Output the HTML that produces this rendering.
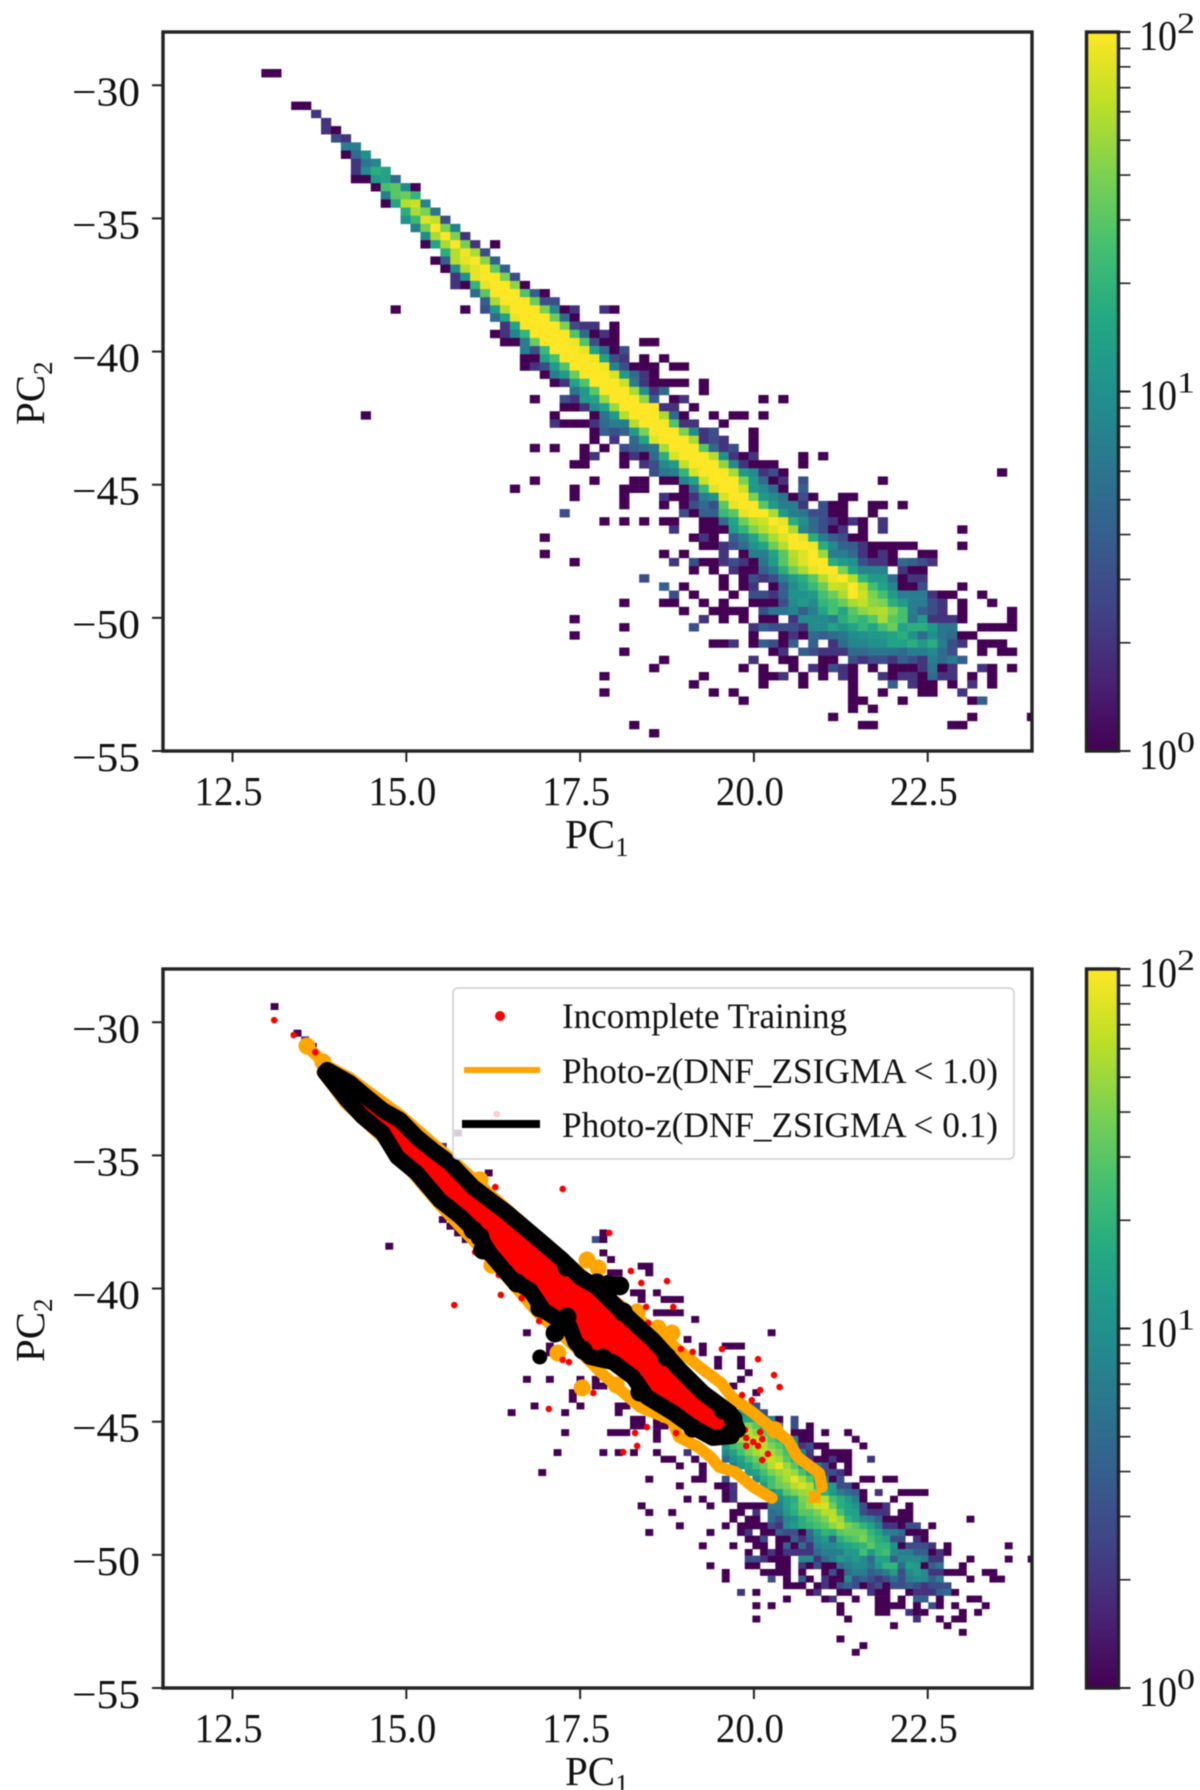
<!DOCTYPE html>
<html lang="en">
<head>
<meta charset="utf-8">
<title>PC1 vs PC2 density charts</title>
<style>
html,body{margin:0;padding:0;background:#fff;}
svg{display:block;filter:blur(0.45px);}
text{font-family:"Liberation Serif","Times New Roman",serif;fill:#111;}
</style>
</head>
<body>
<svg id="figure" xmlns="http://www.w3.org/2000/svg" width="1200" height="1790" viewBox="0 0 1200 1790">
  <defs>
    <clipPath id="clip-top"><rect x="163" y="32" width="869" height="719"/></clipPath>
    <clipPath id="clip-bottom"><rect x="163" y="969" width="869" height="719"/></clipPath>
    <linearGradient id="viridis-grad" x1="0" y1="1" x2="0" y2="0"></linearGradient>
  </defs>
  <g id="top-panel">
    <g id="top-cells" clip-path="url(#clip-top)"></g>
    <g id="top-axes"></g>
    <text x="565" y="848" font-size="41">PC<tspan dy="8" font-size="27">1</tspan></text>
    <text transform="translate(44,425) rotate(-90)" font-size="41">PC<tspan dy="8" font-size="27">2</tspan></text>
  </g>
  <g id="bottom-panel">
    <g id="bottom-cells" clip-path="url(#clip-bottom)"></g>
    <g id="overlays" clip-path="url(#clip-bottom)"></g>
    <g id="bottom-axes"></g>
    <text x="565" y="1785" font-size="41">PC<tspan dy="8" font-size="27">1</tspan></text>
    <text transform="translate(44,1362) rotate(-90)" font-size="41">PC<tspan dy="8" font-size="27">2</tspan></text>
    <g>
      <rect x="453" y="988" width="561" height="171" rx="5" ry="5" fill="#fff" fill-opacity="0.8" stroke="#d0d0d0" stroke-width="1.6"/>
      <circle cx="500" cy="1016" r="5" fill="#ff0000"/>
      <text x="562" y="1028" font-size="36" textLength="285" lengthAdjust="spacingAndGlyphs">Incomplete Training</text>
      <line x1="464" y1="1070" x2="540" y2="1070" stroke="#ffa500" stroke-width="6"/>
      <text x="562" y="1083" font-size="36" textLength="436" lengthAdjust="spacingAndGlyphs">Photo-z(DNF_ZSIGMA &lt; 1.0)</text>
      <line x1="462" y1="1124" x2="540" y2="1124" stroke="#000" stroke-width="8"/>
      <text x="562" y="1137" font-size="36" textLength="436" lengthAdjust="spacingAndGlyphs">Photo-z(DNF_ZSIGMA &lt; 0.1)</text>
    </g>
  </g>
</svg>
<script>
const pc1Ticks = [12.5, 15.0, 17.5, 20.0, 22.5];
const pc2Ticks = [-30, -35, -40, -45, -50, -55];
const colorbarMajor = [1, 10, 100];
const colorbarMajorLabels = ['0', '1', '2'];
const colorbarMinor = [2, 3, 4, 5, 6, 7, 8, 9, 20, 30, 40, 50, 60, 70, 80, 90];
const viridisColors = ['#440154','#482475','#414487','#355f8d','#2a788e','#21918c','#22a884','#44bf70','#7ad151','#bddf26','#fde725'];

// bins: [PC2 bin, first PC1 bin, counts...]
const topBinPc1Start = 12.915, topBinPc1Width = 0.143, topBinPc2Start = -29.39, topBinPc2Height = 0.306;
const topCounts = [
[0,0,[1,1]],[4,3,[1,1]],[5,5,[2]],[6,6,[2]],[7,6,[2,1]],[8,7,[3,2]],[9,8,[7,7]],[10,8,[1,5,10]],[11,9,[2,6,8]],[12,9,[2,9,18,14]],
[13,9,[1,1,12,14,5]],[14,11,[1,25,30,9,1]],[15,12,[7,30,35,20]],[16,12,[1,15,60,70,8]],[17,14,[18,55,40,6]],[18,14,[10,22,80,65,3]],
[19,15,[7,38,100,40,8]],[20,16,[9,55,100,40,2]],[21,16,[1,15,55,100,38,2,0,1]],[22,18,[18,60,90,55,3]],[23,17,[1,4,60,85,100,45,4]],
[24,18,[1,9,60,85,100,32,4]],[25,19,[2,10,85,100,100,40,3]],[26,19,[2,1,20,85,100,100,45,1]],[27,21,[5,30,100,100,100,28,4,1]],
[28,22,[4,55,100,100,100,35,3,3]],[29,13,[1]],[29,20,[1,0,3,12,60,100,100,100,40,9,1,2,0,0,2,1]],[30,23,[5,14,85,100,100,100,35,5,1]],
[31,24,[2,14,100,100,100,100,40,3,2,2,0,1]],[32,23,[1,2,8,20,100,100,100,100,28,5,1,2,1]],[33,24,[1,1,7,35,100,100,100,90,28,3,1,1,0,0,1,1]],
[34,26,[7,3,22,100,100,100,85,14,5,1,3]],[35,26,[1,1,14,25,100,100,100,90,14,3,2,0,1,0,1]],[36,26,[1,2,3,12,28,100,100,100,90,8,3,1,1,1,0,1,1]],
[37,28,[1,7,12,35,100,100,100,75,12,5,2,1]],[38,29,[1,2,14,28,100,100,100,70,7,2,1,1,1,1,0,1]],[39,31,[6,12,30,100,100,100,55,10,2,5,0,0,0,1]],
[40,27,[1]],[40,30,[3,2,12,15,50,100,100,100,45,4,0,1,2]],[40,50,[1]],[40,52,[1]],[41,30,[1,1,2,9,14,50,100,100,100,100,2,2,0,1]],
[42,10,[1]],[42,29,[1,0,0,0,1,6,12,60,100,100,100,55,5,1,0,0,1,0,1,1,0,1]],[43,29,[2,1,1,1,2,5,7,7,60,100,100,100,28,2,2,0,0,1]],
[44,33,[1,4,3,4,12,40,100,100,100,40,9,2,3,0,0,0,1]],[45,33,[1,0,2,0,5,15,80,100,100,100,55,2,3,2,0,0,1]],
[46,27,[1,0,1,0,0,1,0,1,0,3,4,5,6,55,100,100,100,30,5,2,3,0,1]],[47,32,[1,2,0,0,1,2,1,5,18,75,100,100,100,60,10,2,1,2]],[47,54,[1]],[47,56,[1]],
[48,31,[1,1,0,0,0,1,0,2,3,9,12,65,100,100,100,45,9,2,1,1,1]],[48,54,[1]],[49,39,[3,6,7,20,75,100,100,100,55,12,9,2,3,1]],[49,74,[1]],
[50,27,[1]],[50,33,[1]],[50,37,[1,1,0,1,1,8,14,70,100,100,100,40,12,5,1,2,0,3]],[50,62,[1]],
[51,25,[1]],[51,31,[1]],[51,36,[1,1,1,0,0,0,1,5,22,80,100,100,70,12,9,5,1,0,4]],
[52,31,[1]],[52,36,[1,0,0,0,2,1,1,2,7,10,75,100,100,40,12,9,6,1,3,1]],[52,58,[1,1]],
[53,36,[1]],[53,40,[1,0,1,3,5,3,30,85,100,100,30,12,7,7,2,0,3,1,1]],[53,61,[1,1]],[53,64,[1]],
[54,30,[3]],[54,42,[3,1,4,4,22,30,85,100,100,55,12,7,6,3,3,1,1]],[54,61,[1]],
[55,34,[1]],[55,36,[1,0,1,0,1,1,0,0,1,1,5,15,35,60,70,100,85,18,10,5,3,2,1,2,1,0,2]],
[56,41,[2,0,0,1,1,1,12,20,40,60,80,100,55,8,5,3,1,2,0,1,0,2]],[56,70,[1]],
[57,28,[1]],[57,43,[1,2,1,0,4,7,14,30,55,80,100,85,18,7,4,3,1,1]],
[58,44,[1,1,2,3,5,10,15,35,60,100,100,90,18,9,4,4,2,1,1,1,1,1]],[58,70,[1]],
[59,28,[1]],[59,40,[1,0,1,0,0,0,2,0,1,7,7,14,30,60,80,100,50,7,7,5,2,1,2,1]],[59,66,[1,1]],
[60,31,[1]],[60,41,[2,0,3,1,1,2,3,2,1,6,12,30,55,80,100,100,18,12,10,3,2,2,1,5,4,3,2]],
[61,43,[1,0,1,0,2,1,1,4,7,18,35,55,85,100,100,40,15,8,8,8,0,2,1,1]],
[62,38,[3]],[62,46,[1,0,1,3,2,3,7,12,18,30,60,90,100,60,20,12,12,5,1,2,2]],
[63,40,[4,0,1]],[63,46,[1,0,1,2,0,1,4,9,14,22,35,70,65,100,60,25,14,8,1,1,3]],[63,70,[1]],
[64,41,[3,0,1]],[64,47,[1,0,3,3,2,4,10,10,12,25,35,55,100,70,40,25,12,7,7,7,2,1,1]],[64,72,[1]],
[65,36,[1]],[65,40,[1,1]],[65,44,[1,0,1]],[65,49,[1,1,1,3,9,12,9,20,25,35,55,65,45,40,18,12,7,7,3,2,0,1]],[65,73,[1]],
[66,42,[1,0,0,1,1,1,1,0,3,6,6,8,4,7,15,25,15,30,45,55,60,40,25,7,4,3,2,0,1]],[66,75,[1]],
[67,31,[1]],[67,44,[2,0,1,0,1,0,1,1,0,2,9,9,9,7,18,25,20,30,55,30,25,6,12,2,2,2,1]],[67,75,[1]],
[68,36,[1]],[68,43,[3]],[68,49,[2,4,3,3,3,2,9,9,14,10,14,20,15,25,35,14,18,18,12,6,6]],[68,72,[1,1,1,1]],
[69,31,[1]],[69,49,[1,0,0,1,2,1,5,4,5,6,9,10,12,12,14,18,10,5,10,6,5,1,1]],
[70,45,[1,1,2,0,1,4,3,1,4,0,4,0,2,5,8,8,10,10,14,14,18,12,18,7,3,2]],[70,72,[1,1,1]],
[71,36,[1]],[71,51,[1,2,0,4,3,2,2,2,5,5,6,6,6,5,7,7,9,5,3]],[71,72,[1]],[71,74,[1,1]],
[72,40,[1]],[72,49,[2,0,0,1,1,0,0,1,1,0,3,2,3,3,2,4,3,2,7,5,7,4]],
[73,39,[1]],[73,48,[1,0,1,0,0,1,0,2,1,3,2,1,0,1,0,1,1,1,2,6,1,2]],[73,72,[2,1,0,1]],
[74,34,[1]],[74,44,[1]],[74,50,[1,1,2,0,1,0,1,0,2,1,0,0,2,1,2,2,1,5,2,2,0,1,0,1]],
[75,43,[1]],[75,50,[1]],[75,54,[1]],[75,59,[1,0,0,0,4,0,2,1,1,0,1,0,2,0,1]],
[76,34,[1]],[76,45,[1,0,1]],[76,59,[1,0,0,1]],[76,66,[1,1,0,0,2]],
[77,48,[1]],[77,59,[1,1]],[77,64,[1]],[77,71,[1,4]],[78,59,[1,0,1]],[79,57,[1]],[79,71,[1]],[79,77,[1]],
[80,37,[1]],[80,60,[1,1]],[80,69,[1,1]],[81,39,[1]]
];

const bottomBinPc1Start = 12.938, bottomBinPc1Width = 0.11, bottomBinPc2Start = -29.28, bottomBinPc2Height = 0.25;
const bottomCounts = [
[0,1,[1]],[4,4,[1]],[5,5,[2]],[6,6,[1]],[7,6,[2]],[8,7,[2]],[19,25,[1]],[21,23,[2]],[25,29,[1]],[32,23,[1]],[33,24,[1]],[34,25,[1]],[34,44,[1]],
[35,26,[1]],[35,29,[14,35,70,100,100,70,35]],[35,43,[3,1]],[36,16,[1]],[37,44,[1]],[38,45,[1]],[39,49,[1,1]],[40,45,[1,1]],[40,50,[1]],
[43,48,[1,1,0,1]],[44,49,[1,0,0,1,1,1]],[45,37,[7,14,40,90,100,100,100,70,30,10]],[46,51,[1,1,1,1]],[47,56,[1]],[49,34,[1]],[49,66,[1]],
[50,55,[1]],[51,37,[1]],[51,57,[1,0,0,1,1,1]],[52,37,[1]],[52,57,[1]],[53,59,[1,0,0,1]],[54,59,[1,0,0,1]],[55,63,[1]],
[56,34,[1]],[56,37,[1]],[56,41,[1]],[56,43,[1]],[56,62,[1]],[57,43,[1,1]],[57,61,[1]],[58,40,[1]],[58,64,[1]],[59,40,[1]],
[59,50,[9,20,60,100,100,70,30,14]],[60,35,[1]],[60,41,[1]],[60,46,[1,1]],[60,63,[5,3]],[61,32,[1]],[61,39,[1]],[61,46,[1]],[61,62,[9,12,5,3]],
[62,48,[1,1]],[62,51,[1]],[62,62,[14,14,20,9,8,1]],[62,69,[3]],[63,48,[1,1]],[63,51,[1,1]],[63,61,[20,30,45,30,18,8,7]],[63,69,[3]],[63,71,[1]],
[64,39,[1]],[64,45,[1,1,1]],[64,51,[1]],[64,61,[30,45,60,45,30,18,12]],[64,69,[1,1,1]],[64,73,[1]],[64,76,[1]],
[65,51,[1]],[65,60,[20,35,55,70,65,45,30,20,18,9]],[65,70,[1,1]],[65,77,[1]],
[66,60,[12,25,30,40,60,60,40,30,20,10,2,3,1,1]],[66,78,[1]],
[67,38,[1]],[67,44,[1]],[67,46,[1]],[67,48,[1]],[67,51,[1]],[67,55,[2]],[67,60,[9,14,25,40,55,65,55,40,25,14,7,2,0,1,1,1,1]],
[68,52,[1,1,0,0,1]],[68,56,[1]],[68,60,[5,10,14,25,35,55,65,55,30,18,7,2,1,1,2,1,1]],[68,79,[2]],
[69,54,[1]],[69,57,[1]],[69,61,[7,12,15,25,35,60,85,50,30,14,9,7,3,1,0,1]],
[70,36,[1]],[70,57,[1]],[70,63,[12,14,25,40,50,60,50,25,14,7,3,3,2,1]],
[71,50,[1]],[71,56,[1,1]],[71,60,[3]],[71,64,[9,18,25,40,55,85,55,30,14,7,1,3]],[71,78,[1,1]],[71,81,[1,1]],
[72,54,[1]],[72,59,[1,1,2]],[72,65,[12,25,35,40,60,75,60,20,12,12,3,3,1]],
[73,60,[1,2]],[73,66,[8,14,30,40,50,55,40,20,12,7,5,4,1]],[73,80,[2]],[73,83,[1,1,1,1]],
[74,55,[1]],[74,57,[1]],[74,60,[1,2]],[74,67,[9,14,18,40,45,70,60,25,18,12,7,1]],[74,82,[1]],
[75,49,[1]],[75,58,[1]],[75,62,[1,1,1,1,7,7,14,20,35,50,70,75,35,18,14,10,3,1,1,2]],[75,84,[1]],
[76,50,[1]],[76,53,[1]],[76,61,[1,1,0,2]],[76,66,[5,6,12,18,30,30,40,60,60,25,14,14,3,2,2,2,0,1,1]],
[77,61,[1]],[77,63,[1,1]],[77,66,[5,3,8,10,18,25,30,40,65,50,20,14,9,7,4,1,1,1,1]],[77,92,[1]],
[78,54,[1]],[78,60,[1]],[78,62,[1,1,1,1,3,2,9,12,18,20,25,30,45,60,40,30,20,14,7,2,2,1,3,3,0,1]],
[79,50,[1]],[79,58,[1]],[79,62,[1,2,0,1,1,4,3,3,1,5,12,20,18,30,35,35,35,20,14,7,7,5,1,1,1]],
[80,63,[1,1,3,0,1,1,4,2,4,9,12,4,18,25,30,40,25,18,14,3,3,0,2,1]],
[81,57,[1]],[81,61,[1,0,0,1,1,0,1,4,1,5,2,7,9,9,12,14,18,20,30,20,20,10,1,3,3,3,2,0,1]],[81,97,[1]],
[82,63,[1,0,1,2,1,2,2,2,2,5,7,7,7,12,12,25,12,20,25,9,7,7,4,4,1,2,1]],
[83,63,[3,3,2,1,1,1,0,9,9,2,5,7,12,9,12,9,5,14,14,4,9,9,9,7,2,2]],[83,92,[1]],[83,97,[1]],[83,100,[1]],
[84,58,[1]],[84,63,[1,1,0,0,1,1,0,2,1,3,1,1,5,7,9,9,6,12,20,20,5,14,12,1,4,6]],[84,91,[1]],
[85,60,[1]],[85,65,[1,1,1,1,0,1,0,0,1,3,1,5,7,7,4,5,7,12,3,9,12,9,2,2,1,1,1]],[85,94,[1,1]],
[86,60,[1]],[86,66,[3,0,1,0,4,1,0,2,1,1,9,3,4,3,2,3,5,3,7,9,9,4,7]],[86,92,[1]],[86,95,[1,1]],
[87,68,[1,1,1,0,1,2,1,3,4,3,1,2,3,1,3,3,4,3,2,3,3,3]],
[88,62,[2]],[88,64,[1]],[88,71,[1,2]],[88,75,[1,1,0,0,2,1,1,0,0,1,2,2,2,4,5,1]],
[89,68,[1]],[89,73,[1,2]],[89,77,[1]],[89,80,[1,1]],[89,83,[1]],[89,85,[4,4,0,1]],[89,92,[1,1]],
[90,64,[1]],[90,66,[1]],[90,75,[1]],[90,80,[1,1,1,1,0,1,0,3,1,0,1]],[90,94,[1]],
[91,75,[1]],[91,80,[1,1]],[91,84,[2,1,1]],[91,91,[1]],[91,93,[1]],
[92,64,[1]],[92,76,[1]],[92,85,[2]],[92,88,[1]],[92,90,[1,1]],[93,82,[1]],[93,89,[1]],[94,91,[1]],[95,75,[1]],[96,78,[1]],[97,77,[1]]
];

const incompletePc1 = [13.86,14.19,14.43,14.66,14.91,15.15,15.38,15.63,15.96,16.45,16.88,17.25,17.5,17.74,18.03,18.36,18.55,18.94,19.27,19.66,19.77,19.68,19.41,19.12,18.84,18.46,18.26,17.97,17.64,17.43,17.35,16.97,16.78,16.53,16.20,16.02,15.77,15.48,15.15,14.87,14.66,14.38,14.15,13.83];
const incompletePc2 = [-31.79,-32.28,-32.81,-33.30,-33.67,-34.31,-34.8,-35.29,-36.19,-37.16,-38.1,-38.93,-39.57,-39.94,-40.69,-41.48,-41.93,-43.06,-43.92,-44.67,-45.31,-45.54,-45.61,-45.2,-44.67,-44.07,-43.32,-42.76,-42.57,-42.01,-41.44,-40.81,-40.06,-39.68,-38.67,-37.91,-37.28,-36.68,-35.66,-35.06,-34.16,-33.56,-32.92,-31.87];

const blackUpperPc1 = [13.86,14.19,14.43,14.66,14.91,15.15,15.38,15.63,15.96,16.45,16.88,17.25,17.5,17.74,18.03,18.36,18.55,18.94,19.27,19.66,19.77];
const blackUpperPc2 = [-31.79,-32.28,-32.81,-33.30,-33.67,-34.31,-34.8,-35.29,-36.19,-37.16,-38.1,-38.93,-39.57,-39.94,-40.69,-41.48,-41.93,-43.06,-43.92,-44.67,-45.31];
const blackLowerPc1 = [13.83,14.15,14.38,14.66,14.87,15.15,15.48,15.77,16.02,16.20,16.53,16.78,16.97,17.35,17.43,17.64,17.97,18.26,18.46,18.84,19.12,19.41,19.68];
const blackLowerPc2 = [-31.87,-32.92,-33.56,-34.16,-35.06,-35.66,-36.68,-37.28,-37.91,-38.67,-39.68,-40.06,-40.81,-41.44,-42.01,-42.57,-42.76,-43.32,-44.07,-44.67,-45.2,-45.61,-45.54];
const blackBlobPc1 = [17.14,18.07,17.9,18.0,19.7,15.96,16.1,16.59,16.92,17.31,17.54,17.83,18.36,17.31,17.74,18.12,18.75,19.12,19.66,19.56,16.06];
const blackBlobPc2 = [-41.67,-39.9,-39.85,-39.9,-44.9,-37.8,-38.55,-39.79,-40.73,-41.07,-42.31,-42.61,-43.89,-39.19,-39.79,-40.88,-42.57,-45.24,-45.42,-44.56,-38.06];
const blackIslandPc1 = [16.92];
const blackIslandPc2 = [-42.57];

const orangeUpperPc1 = [13.57,13.86,14.19,14.91,15.63,16.35,17.07,17.79,18.36,18.65,19.22,19.53,19.68,19.99,20.33,20.49,20.63,20.94,20.98];
const orangeUpperPc2 = [-30.89,-31.64,-32.09,-33.48,-35.1,-36.79,-38.44,-40.06,-41.18,-41.74,-42.95,-43.55,-44.07,-44.67,-45.39,-45.69,-46.33,-46.93,-47.45];
const orangeLowerPc1 = [13.79,14.12,14.66,15.48,16.20,16.92,17.43,17.79,18.36,18.82,18.92,19.20,19.38,19.5,19.73,19.99,20.26];
const orangeLowerPc2 = [-31.87,-33.03,-34.35,-36.86,-38.85,-40.99,-42.2,-43.13,-44.45,-44.94,-45.57,-45.95,-46.33,-46.7,-46.89,-47.45,-47.87];
const orangeStubPc1 = [20.79,20.96];
const orangeStubPc2 = [-47.83,-47.83];
const orangeBlobPc1 = [13.57,13.80,16.06,16.23,17.60,17.76,18.32,17.53,17.18,18.02,18.62,18.82,20.3];
const orangeBlobPc2 = [-30.89,-31.49,-35.92,-39.12,-38.93,-39.23,-40.88,-43.73,-42.42,-43.62,-41.48,-41.67,-45.3];

const redPc1 = [16.28,17.25,17.92,18.23,18.38,18.75,18.84,15.69,16.36,16.33,16.66,16.91,18.48,18.45,18.95,19.12,19.54,20.06,20.29,20.09,19.83,19.97,17.05,17.69,17.25,17.34,18.46,18.29,18.32,18.12,18.88,19.87,20.09,19.89,19.99,20.12,19.89,20.06,20.20,20.12,15.99,20.37,13.10,13.38,13.69,16.30];
const redPc2 = [-36.19,-36.26,-37.91,-39.34,-39.79,-39.72,-40.69,-40.62,-40.24,-39.49,-40.36,-41.22,-41.29,-40.69,-42.27,-42.38,-42.27,-42.65,-43.25,-43.81,-44.0,-44.19,-44.52,-43.92,-42.68,-42.76,-45.2,-45.42,-45.91,-46.14,-45.42,-45.31,-45.39,-45.61,-45.76,-45.65,-45.91,-45.91,-46.21,-46.44,-38.63,-43.7,-29.92,-30.48,-31.12,-33.45];

const SVG_NS = 'http://www.w3.org/2000/svg';
const PLOT_LEFT = 163, PLOT_W = 869, PLOT_H = 719;
const PC1_MIN = 11.5, PC1_MAX = 24, PC2_MIN = -55, PC2_MAX = -28;
const TOP_Y = 32, BOTTOM_Y = 969;

function xScale(v) { return PLOT_LEFT + (v - PC1_MIN) / (PC1_MAX - PC1_MIN) * PLOT_W; }
function yScale(v, top) { return top + PLOT_H - (v - PC2_MIN) / (PC2_MAX - PC2_MIN) * PLOT_H; }
function viridis(t) {
  t = Math.max(0, Math.min(1, t));
  const p = t * (viridisColors.length - 1);
  const i = Math.min(viridisColors.length - 2, Math.floor(p));
  const f = p - i;
  const a = viridisColors[i], b = viridisColors[i + 1];
  const ch = function (s, k) { return parseInt(s.substr(1 + k * 2, 2), 16); };
  const mix = [0, 1, 2].map(function (k) { return Math.round(ch(a, k) + (ch(b, k) - ch(a, k)) * f); });
  return 'rgb(' + mix.join(',') + ')';
}
function logNorm(v) { return Math.log10(v) / 2; }
function make(tag, attrs, parent) {
  const el = document.createElementNS(SVG_NS, tag);
  Object.keys(attrs).forEach(function (k) { el.setAttribute(k, attrs[k]); });
  parent.appendChild(el);
  return el;
}

function drawCells(groupId, counts, top, pc1Start, pc1Width, pc2Start, pc2Height) {
  const g = document.getElementById(groupId);
  counts.forEach(function (row) {
    row[2].forEach(function (v, k) {
      if (!v) return;
      const x0 = xScale(pc1Start + (row[1] + k) * pc1Width);
      const x1 = xScale(pc1Start + (row[1] + k + 1) * pc1Width);
      const y0 = yScale(pc2Start - row[0] * pc2Height, top);
      const y1 = yScale(pc2Start - (row[0] + 1) * pc2Height, top);
      const el = make('rect', { x: x0.toFixed(2), y: y0.toFixed(2), width: (x1 - x0 + 0.25).toFixed(2), height: (y1 - y0 + 0.25).toFixed(2), fill: viridis(logNorm(v)) }, g);
      
      
    });
  });
}

function drawAxes(groupId, top, prefix) {
  const g = document.getElementById(groupId);
  const frame = make('rect', { x: PLOT_LEFT, y: top, width: PLOT_W, height: PLOT_H, fill: 'none', stroke: '#222', 'stroke-width': 3.4 }, g);
  
  
  pc1Ticks.forEach(function (v) {
    const x = xScale(v);
    const t = make('line', { x1: x, x2: x, y1: top + PLOT_H, y2: top + PLOT_H + 11, stroke: '#222', 'stroke-width': 2 }, g);
    
    
    const l = make('text', { x: x - 4, y: top + PLOT_H + 54, 'font-size': 41, 'text-anchor': 'middle', textLength: 68, lengthAdjust: 'spacingAndGlyphs' }, g);
    l.textContent = v.toFixed(1);
    
    
  });
  pc2Ticks.forEach(function (v) {
    const y = yScale(v, top);
    const t = make('line', { x1: PLOT_LEFT - 11, x2: PLOT_LEFT, y1: y, y2: y, stroke: '#222', 'stroke-width': 2 }, g);
    
    
    const l = make('text', { x: 140, y: y + 20, 'font-size': 41, 'text-anchor': 'end', textLength: 68, lengthAdjust: 'spacingAndGlyphs' }, g);
    l.textContent = '\u2212' + Math.abs(v);
    
    
  });
  const cbX = 1086.5, cbW = 32;
  const bar = make('rect', { x: cbX, y: top, width: cbW, height: PLOT_H, fill: 'url(#viridis-grad)', stroke: '#222', 'stroke-width': 3.4 }, g);
  
  
  function cbY(v) { return top + PLOT_H - logNorm(v) * PLOT_H; }
  colorbarMinor.forEach(function (v) {
    const t = make('line', { x1: cbX + cbW, x2: cbX + cbW + 12, y1: cbY(v), y2: cbY(v), stroke: '#222', 'stroke-width': 1.6 }, g);
    
    
  });
  colorbarMajor.forEach(function (v, i) {
    const y = cbY(v);
    const t = make('line', { x1: cbX + cbW, x2: cbX + cbW + 12, y1: y, y2: y, stroke: '#222', 'stroke-width': 2 }, g);
    
    
    const l = make('text', { x: 1139, y: y + 18, 'font-size': 42, textLength: 38, lengthAdjust: 'spacingAndGlyphs' }, g);
    l.textContent = '10';
    
    
    const s = make('text', { x: 1177, y: y + 1, 'font-size': 30, textLength: 18, lengthAdjust: 'spacingAndGlyphs' }, g);
    s.textContent = colorbarMajorLabels[i];
    
    
  });
}

function linePath(xs, ys, top) {
  return xs.map(function (v, i) { return (i ? 'L' : 'M') + xScale(v).toFixed(1) + ' ' + yScale(ys[i], top).toFixed(1); }).join(' ');
}

function drawOverlays() {
  const g = document.getElementById('overlays');
  const red = make('path', { d: linePath(incompletePc1, incompletePc2, BOTTOM_Y) + ' Z', fill: '#ff0000' }, g);
  
  
  [[orangeUpperPc1, orangeUpperPc2, 'orange-contour-upper'], [orangeLowerPc1, orangeLowerPc2, 'orange-contour-lower']].forEach(function (s) {
    const p = make('path', { d: linePath(s[0], s[1], BOTTOM_Y), fill: 'none', stroke: '#ffa500', 'stroke-width': 11.5, 'stroke-linejoin': 'round', 'stroke-linecap': 'round' }, g);
    
    
  });
  const stub = make('path', { d: linePath(orangeStubPc1, orangeStubPc2, BOTTOM_Y), fill: 'none', stroke: '#ffa500', 'stroke-width': 12 }, g);
  
  
  orangeBlobPc1.forEach(function (v, i) {
    const c = make('circle', { cx: xScale(v), cy: yScale(orangeBlobPc2[i], BOTTOM_Y), r: 8.5, fill: '#ffa500' }, g);
    
    
  });
  redPc1.forEach(function (v, i) {
    const c = make('circle', { cx: xScale(v), cy: yScale(redPc2[i], BOTTOM_Y), r: 3.3, fill: '#ff0000' }, g);
    
    
  });
  [[blackUpperPc1, blackUpperPc2, 'black-contour-upper'], [blackLowerPc1, blackLowerPc2, 'black-contour-lower']].forEach(function (s) {
    const p = make('path', { d: linePath(s[0], s[1], BOTTOM_Y), fill: 'none', stroke: '#000', 'stroke-width': 16, 'stroke-linejoin': 'round', 'stroke-linecap': 'round' }, g);
    
    
  });
  blackBlobPc1.forEach(function (v, i) {
    const c = make('circle', { cx: xScale(v), cy: yScale(blackBlobPc2[i], BOTTOM_Y), r: 9.5, fill: '#000' }, g);
    
    
  });
  blackIslandPc1.forEach(function (v, i) {
    const c = make('circle', { cx: xScale(v), cy: yScale(blackIslandPc2[i], BOTTOM_Y), r: 7.5, fill: '#000' }, g);
    
    
  });
}

const grad = document.getElementById('viridis-grad');
viridisColors.forEach(function (c, i) {
  make('stop', { offset: i / (viridisColors.length - 1), 'stop-color': c }, grad);
});
drawCells('top-cells', topCounts, TOP_Y, topBinPc1Start, topBinPc1Width, topBinPc2Start, topBinPc2Height);
drawCells('bottom-cells', bottomCounts, BOTTOM_Y, bottomBinPc1Start, bottomBinPc1Width, bottomBinPc2Start, bottomBinPc2Height);
drawOverlays();
drawAxes('top-axes', TOP_Y, 'top');
drawAxes('bottom-axes', BOTTOM_Y, 'bottom');
</script>
</body>
</html>
